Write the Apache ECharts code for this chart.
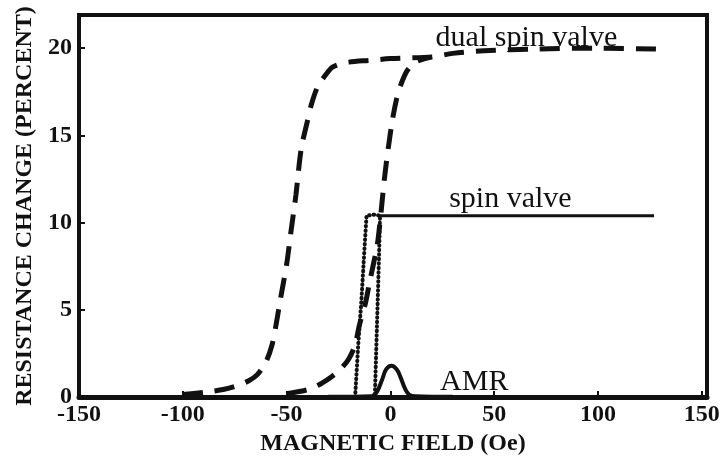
<!DOCTYPE html>
<html>
<head>
<meta charset="utf-8">
<script src="https://cdn.jsdelivr.net/npm/echarts@6/dist/echarts.min.js"></script>
<style>
  html, body { margin: 0; padding: 0; background: #fff; }
  #chart { width: 723px; height: 461px; }
</style>
</head>
<body>
<div id="chart"></div>
<script>
// Magnetoresistance curves: resistance change (%) versus applied field (Oe)

// Dual spin valve, branch switching near -45 Oe (runs on along the saturated top)
const dualLeftField = [-100, -88, -80, -74, -68, -64, -60, -57, -55, -53, -50, -48, -45.5, -43, -40, -38, -35, -31, -28, -24, -20, -10, 0, 20, 30, 45, 70, 100, 128];
const dualLeftValue = [0.15, 0.3, 0.45, 0.65, 0.95, 1.3, 2.0, 3.0, 4.2, 5.6, 7.6, 9.4, 11.6, 14.2, 15.8, 16.8, 17.8, 18.5, 18.9, 19.1, 19.2, 19.3, 19.4, 19.5, 19.7, 19.85, 19.95, 20.0, 19.95];

// Dual spin valve, branch switching near 0 Oe
const dualRightField = [-50, -39, -33, -28, -24, -20, -17, -15, -12, -10, -7, -6, -4.5, -3, -1, 1, 3, 5, 8, 12, 20];
const dualRightValue = [0.2, 0.45, 0.8, 1.2, 1.6, 2.2, 3.0, 4.1, 5.4, 6.6, 8.3, 9.0, 10.6, 12.4, 14.3, 15.9, 17.1, 17.9, 18.7, 19.2, 19.5];

// Spin valve switching loop (dotted)
const svLoopField = [-17, -15.5, -14, -12.5, -11.5, -8, -5, -5.5, -6.5, -7.5];
const svLoopValue = [0, 3, 5.5, 8.5, 10.4, 10.45, 10.4, 8, 4, 0];

// Spin valve saturated plateau (solid)
const svField = [-5, 127];
const svValue = [10.4, 10.4];

// Anisotropic magnetoresistance
const amrField = [-30, -9, -6.5, -4, -2, 0.5, 3, 5, 7, 9, 12, 30];
const amrValue = [0.02, 0.05, 0.3, 1.0, 1.6, 1.8, 1.6, 1.1, 0.5, 0.15, 0.05, 0.02];

// Curve labels
const labelText = ['dual spin valve', 'spin valve', 'AMR'];
const labelField = [65.5, 57.8, 40.4];
const labelValue = [20.57, 11.37, 0.85];

const xTicks = [-150, -100, -50, 0, 50, 100, 150];
const yTicks = [0, 5, 10, 15, 20];

const pair = (xs, ys) => xs.map((x, i) => [x, ys[i]]);

const ink = '#111';
const boldFont = { fontFamily: 'Liberation Serif', fontWeight: 'bold', fontSize: 24, color: ink };

const chart = echarts.init(document.getElementById('chart'), null, { renderer: 'canvas' });
chart.setOption({
  animation: false,
  backgroundColor: '#fff',
  grid: {
    left: 79, right: 16, top: 15, bottom: 63,
    show: true, borderColor: ink, borderWidth: 4, backgroundColor: 'transparent'
  },
  xAxis: {
    type: 'value', min: -150, max: 152.5, interval: 50,
    name: 'MAGNETIC FIELD (Oe)', nameLocation: 'middle', nameGap: 30,
    nameTextStyle: boldFont,
    axisLine: { show: true, onZero: false, lineStyle: { color: ink, width: 5 } },
    axisTick: { show: true, inside: true, length: 6, lineStyle: { color: ink, width: 2 } },
    axisLabel: {
      ...boldFont, margin: 6,
      formatter: v => (xTicks.includes(v) ? String(v) : '')
    },
    splitLine: { show: false }
  },
  yAxis: {
    type: 'value', min: 0, max: 21.9, interval: 5,
    name: 'RESISTANCE CHANGE (PERCENT)', nameLocation: 'middle', nameGap: 42,
    nameTextStyle: boldFont,
    axisLine: { show: true, onZero: false, lineStyle: { color: ink, width: 4 } },
    axisTick: { show: true, inside: true, length: 6, lineStyle: { color: ink, width: 2 } },
    axisLabel: {
      ...boldFont, margin: 7,
      formatter: v => (yTicks.includes(v) ? String(v) : '')
    },
    splitLine: { show: false }
  },
  series: [
    {
      type: 'line', data: pair(dualLeftField, dualLeftValue), smooth: 0.3,
      showSymbol: false, silent: true,
      lineStyle: { color: ink, width: 5, type: [20, 12], cap: 'butt' }
    },
    {
      type: 'line', data: pair(dualRightField, dualRightValue), smooth: 0.3,
      showSymbol: false, silent: true,
      lineStyle: { color: ink, width: 5, type: [20, 12], cap: 'butt' }
    },
    {
      type: 'line', data: pair(svLoopField, svLoopValue),
      showSymbol: false, silent: true,
      lineStyle: { color: ink, width: 4, type: [0.5, 4], cap: 'round' }
    },
    {
      type: 'line', data: pair(svField, svValue),
      showSymbol: false, silent: true,
      lineStyle: { color: ink, width: 3 }
    },
    {
      type: 'line', data: pair(amrField, amrValue), smooth: 0.4,
      showSymbol: false, silent: true,
      lineStyle: { color: ink, width: 4 }
    },
    {
      type: 'scatter', silent: true, symbolSize: 0,
      itemStyle: { opacity: 1 },
      data: labelText.map((t, i) => [labelField[i], labelValue[i], t]),
      label: {
        show: true, position: 'inside', formatter: p => p.data[2],
        fontFamily: 'Liberation Serif', fontSize: 30, color: ink
      }
    }
  ]
});
</script>
</body>
</html>
